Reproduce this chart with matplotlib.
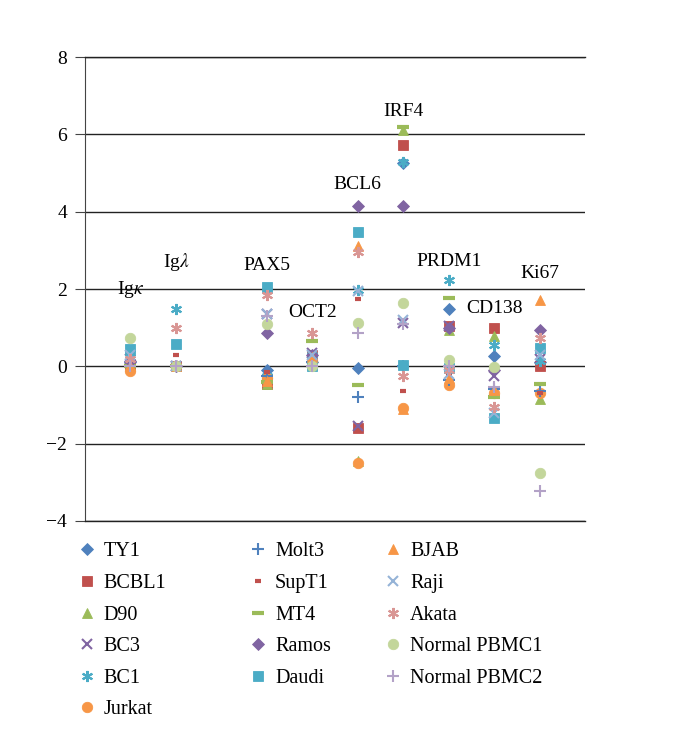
import numpy as np
import matplotlib
matplotlib.use("Agg")
import matplotlib.pyplot as plt
from matplotlib.lines import Line2D

plt.rcParams['font.family'] = ['Liberation Serif', 'DejaVu Serif']
plt.rcParams['mathtext.fontset'] = 'stix'

genes = ['Ig$\\kappa$', 'Ig$\\lambda$', 'PAX5', 'OCT2', 'BCL6', 'IRF4', 'PRDM1', 'CD138', 'Ki67']
xpos = [1, 2, 4, 5, 6, 7, 8, 9, 10]
label_y = [2.0, 2.7, 2.6, 1.4, 4.7, 6.6, 2.7, 1.5, 2.4]

# values per cell line, one entry per gene
TY1    = [0.10, 0.00, -0.10, 0.10, -0.05, 5.25, 1.48, 0.27, 0.10]
BCBL1  = [0.05, 0.00, -0.45, 0.30, -1.60, 5.72, 1.05, 0.98, 0.00]
D90    = [0.00, 0.00, -0.45, 0.20, -2.45, 6.12, 0.95, 0.78, -0.85]
BC3    = [0.20, 0.00, 1.35, 0.35, -1.55, 1.12, 1.05, -0.26, 0.20]
BC1    = [0.35, 1.47, -0.25, 0.30, 1.97, 5.28, 2.23, 0.54, 0.15]
Jurkat = [-0.12, 0.00, -0.30, 0.15, -2.50, -1.08, -0.48, -0.70, -0.70]
Molt3  = [0.00, 0.00, -0.25, 0.10, -0.80, 0.00, -0.35, -0.60, -0.65]
SupT1  = [0.00, 0.28, -0.15, 0.25, 1.74, -0.65, -0.20, -0.75, -0.70]
MT4    = [0.00, 0.00, -0.40, 0.66, -0.48, 6.20, 1.78, -0.80, -0.46]
Ramos  = [0.15, 0.00, 0.86, 0.30, 4.15, 4.15, 1.00, -0.10, 0.94]
Daudi  = [0.45, 0.58, 2.05, 0.00, 3.48, 0.04, -0.05, -1.35, 0.48]
BJAB   = [0.00, 0.00, -0.38, 0.25, 3.10, -1.10, -0.30, -0.62, 1.72]
Raji   = [0.30, 0.00, 1.35, 0.30, 1.95, 1.20, -0.20, -1.20, 0.30]
Akata  = [0.20, 1.00, 1.85, 0.85, 2.95, -0.25, -0.10, -1.05, 0.73]
PBMC1  = [0.73, 0.00, 1.10, 0.02, 1.12, 1.63, 0.16, -0.02, -2.75]
PBMC2  = [0.00, 0.00, 1.30, 0.00, 0.87, 1.10, 0.00, -0.53, -3.22]

series = [
    ('TY1', TY1, 'D', '#4F81BD', 6.5),
    ('BCBL1', BCBL1, 's', '#C0504D', 7),
    ('D90', D90, '^', '#9BBB59', 7.5),
    ('BC3', BC3, 'x', '#8064A2', 7),
    ('BC1', BC1, (6, 2, 0), '#4BACC6', 8),
    ('Jurkat', Jurkat, 'o', '#F79646', 7.5),
    ('Molt3', Molt3, '+', '#4F81BD', 8),
    ('SupT1', SupT1, '_', '#C0504D', 5),
    ('MT4', MT4, '_', '#9BBB59', 9),
    ('Ramos', Ramos, 'D', '#8064A2', 6.5),
    ('Daudi', Daudi, 's', '#4BACC6', 7),
    ('BJAB', BJAB, '^', '#F79646', 7.5),
    ('Raji', Raji, 'x', '#95B3D7', 7),
    ('Akata', Akata, (6, 2, 0), '#D99694', 8),
    ('Normal PBMC1', PBMC1, 'o', '#C3D69B', 7.5),
    ('Normal PBMC2', PBMC2, '+', '#B3A2C7', 8),
]

fig = plt.figure(figsize=(6.85, 7.42), dpi=100)
ax = fig.add_axes([0.124, 0.298, 0.73, 0.625])

handles = []
for name, vals, mk, col, ms in series:
    line_like = mk in ('x', '+', '_') or isinstance(mk, tuple)
    kw = dict(marker=mk, linestyle='none', markersize=ms, color=col)
    if line_like:
        kw['markeredgewidth'] = 3 if mk == '_' else 1.5
    else:
        kw['markeredgecolor'] = col
        kw['markeredgewidth'] = 0.6
    ax.plot(xpos, vals, zorder=3, **kw)
    handles.append(Line2D([], [], label=name, **kw))

for x, y, g in zip(xpos, label_y, genes):
    ax.text(x, y, g, ha='center', va='center', fontsize=14)

ax.set_xlim(0, 11)
ax.set_ylim(-4, 8)
ax.set_yticks(np.arange(-4, 9, 2))
ax.set_yticklabels(['\u22124', '\u22122', '0', '2', '4', '6', '8'])
ax.set_xticks([])
ax.yaxis.grid(True, color='#222222', linewidth=1.0)
ax.set_axisbelow(True)
ax.spines['right'].set_visible(False)
for s in ['top', 'bottom']:
    ax.spines[s].set_color('#222222')
    ax.spines[s].set_linewidth(1.0)
ax.spines['left'].set_color('#444444')
ax.tick_params(axis='y', length=7, color='#444444', labelsize=14, pad=6)

cols = [(0, 6, 0.1), (6, 11, 0.35), (11, 16, 0.547)]
for a, b, xl in cols:
    leg = fig.legend(handles=handles[a:b], loc='upper left', bbox_to_anchor=(xl, 0.28),
                     frameon=False, fontsize=14.5, handlelength=1.0, handletextpad=0.35,
                     labelspacing=0.62, borderaxespad=0)

fig.savefig('out.png', dpi=100)
